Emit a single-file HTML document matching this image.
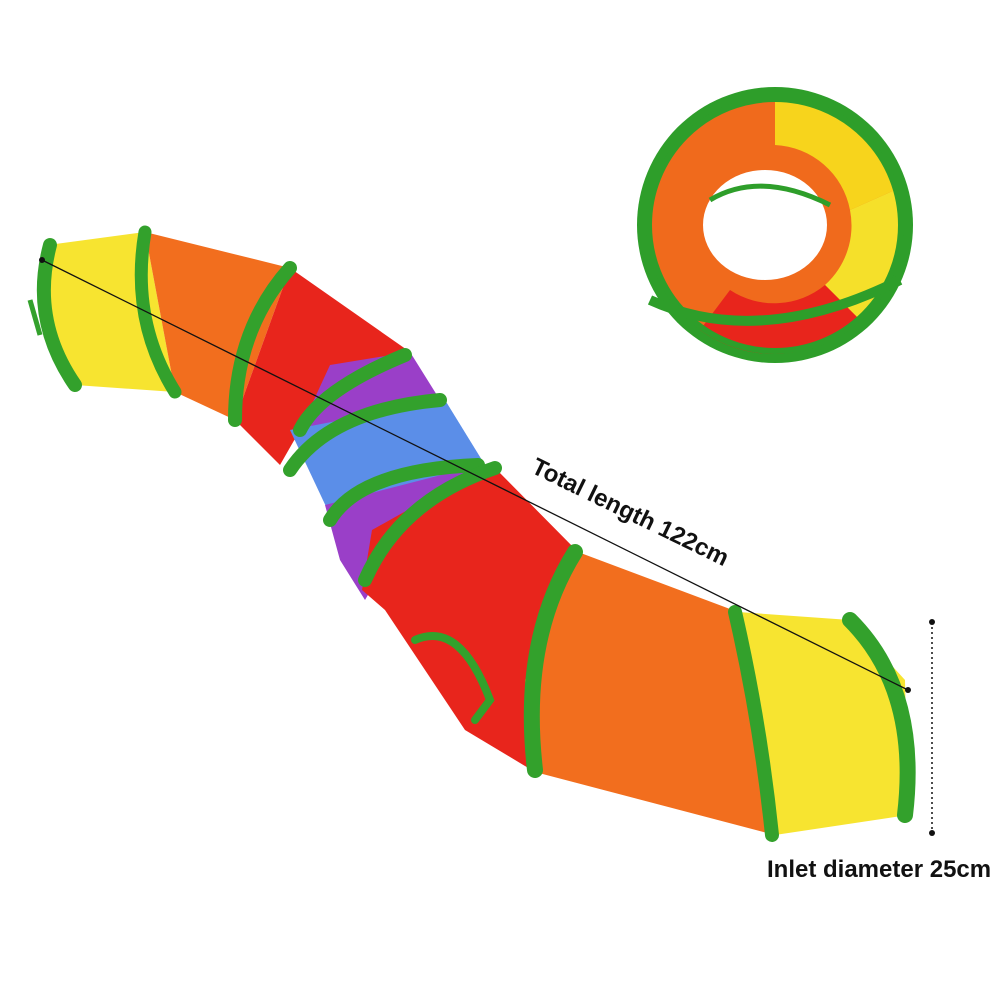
<!DOCTYPE html>
<html><head><meta charset="utf-8"><style>
html,body{margin:0;padding:0;background:#fff;}
svg{display:block;}
text{font-family:"Liberation Sans",sans-serif;font-weight:bold;fill:#111;}
</style></head><body>
<svg width="1000" height="1000" viewBox="0 0 1000 1000" xmlns="http://www.w3.org/2000/svg">
<rect width="1000" height="1000" fill="#fff"/>
<g>
<circle cx="775" cy="225" r="138" fill="#2e9e2a"/>
<circle cx="775" cy="225" r="126" fill="#f06a1c"/>
<path d="M775 99 A126 126 0 0 1 895 190 L850 210 A80 80 0 0 0 775 145Z" fill="#f7d41c"/>
<path d="M895 190 A126 126 0 0 1 860 320 L825 285 A80 80 0 0 0 850 210Z" fill="#f5e02a"/>
<path d="M860 320 A126 126 0 0 1 700 330 L730 290 A80 80 0 0 0 825 285Z" fill="#e8251c"/>
<circle cx="775" cy="225" r="126" fill="none" stroke="#2e9e2a" stroke-width="6"/>
<path d="M650 300 Q760 350 900 280" fill="none" stroke="#2e9e2a" stroke-width="10"/>
<ellipse cx="765" cy="225" rx="62" ry="55" fill="#fff"/>
<path d="M710 200 Q760 170 830 205" fill="none" stroke="#2e9e2a" stroke-width="5"/>
</g>
<polygon points="48,245 145,232 175,392 75,385 40,320" fill="#f7e430"/>
<polygon points="145,232 290,268 235,420 175,392" fill="#f26e1e"/>
<polygon points="290,268 410,352 300,430 280,465 235,420" fill="#e8251c"/>
<polygon points="300,430 330,365 410,352 440,400" fill="#9a3fc8"/>
<polygon points="290,430 445,400 485,465 330,515" fill="#5b8ee8"/>
<polygon points="325,505 480,465 400,540 365,600 340,560" fill="#9a3fc8"/>
<polygon points="362,590 372,530 470,475 495,468 578,552 535,772 465,730 385,610" fill="#e8251c"/>
<polygon points="578,552 738,612 775,835 535,772 525,680" fill="#f26e1e"/>
<polygon points="738,612 850,620 905,680 908,815 775,835" fill="#f7e430"/>
<g fill="none" stroke="#33a12c" stroke-linecap="round">
<path d="M50 245 Q30 320 75 385" stroke-width="14"/>
<path d="M145 232 Q130 320 175 392" stroke-width="13"/>
<path d="M290 268 Q235 330 235 420" stroke-width="14"/>
<path d="M405 355 Q320 390 300 430" stroke-width="14"/>
<path d="M440 400 Q330 410 290 470" stroke-width="14"/>
<path d="M478 465 Q360 470 330 520" stroke-width="14"/>
<path d="M495 468 Q400 500 365 580" stroke-width="14"/>
<path d="M575 552 Q520 640 535 770" stroke-width="16"/>
<path d="M735 612 Q760 720 772 835" stroke-width="14"/>
<path d="M850 620 Q920 690 905 815" stroke-width="16"/>
<path d="M415 640 Q460 620 490 700 L475 720" stroke-width="8"/>
</g>
<path d="M30 300 L40 335" stroke="#33a12c" stroke-width="5"/>
<line x1="42" y1="260" x2="908" y2="690" stroke="#111" stroke-width="1.3"/>
<circle cx="42" cy="260" r="3" fill="#111"/><circle cx="908" cy="690" r="3" fill="#111"/>
<line x1="932" y1="622" x2="932" y2="833" stroke="#111" stroke-width="1.5" stroke-dasharray="2,3"/>
<circle cx="932" cy="622" r="3" fill="#111"/><circle cx="932" cy="833" r="3" fill="#111"/>
<text x="530" y="472" font-size="24" transform="rotate(26 530 472)">Total length 122cm</text>
<text x="767" y="877" font-size="24">Inlet diameter 25cm</text>
</svg>
</body></html>
